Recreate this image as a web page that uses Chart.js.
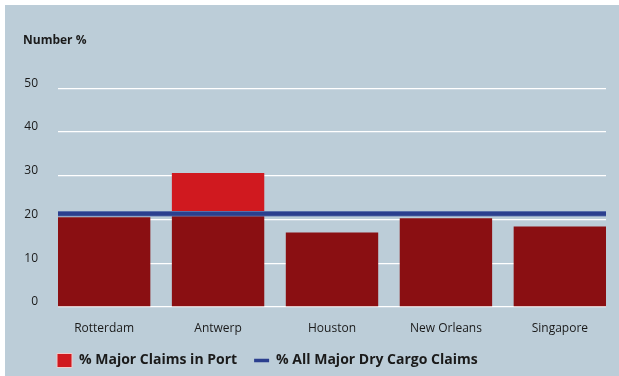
<!DOCTYPE html>
<html>
<head>
<meta charset="utf-8">
<script src="https://cdn.jsdelivr.net/npm/chart.js@4"></script>
<style>
html,body{margin:0;padding:0;background:#ffffff;}
#wrap{position:absolute;left:0;top:0;width:619px;height:376px;}
</style>
</head>
<body>
<div id="wrap"><canvas id="c"></canvas></div>
<script>
// ---- data ----
const categories = ['Rotterdam', 'Antwerp', 'Houston', 'New Orleans', 'Singapore'];
const claimsUpToAverage = [20.5, 21.3, 17.0, 20.3, 18.4];   // dark red part
const claimsAboveAverage = [0, 9.3, 0, 0, 0];               // bright red part
const allDryCargoAverage = 21.3;                            // blue line
const yTicks = [0, 10, 20, 30, 40, 50];
const legendLabels = ['% Major Claims in Port', '% All Major Dry Cargo Claims'];
const yTitle = 'Number %';

const PANEL = '#bccdd8';
const DARK_RED = '#8a0f12';
const BRIGHT_RED = '#d0191f';
const BLUE = '#2b3f8e';
const TEXT = '#1a1a1a';
const FONT = "'Open Sans', 'Noto Sans', sans-serif";

const toPoints = arr => arr.map((v, i) => ({x: i, y: v}));

const panelPlugin = {
  id: 'panel',
  beforeDraw(chart) {
    const ctx = chart.ctx;
    ctx.save();
    ctx.fillStyle = PANEL;
    ctx.fillRect(5, 5, chart.width - 5, chart.height - 5);
    ctx.restore();
  }
};

const avgLinePlugin = {
  id: 'avgLine',
  afterDatasetsDraw(chart) {
    const y = chart.scales.y.getPixelForValue(allDryCargoAverage);
    const {left, right} = chart.chartArea;
    const ctx = chart.ctx;
    ctx.save();
    ctx.strokeStyle = '#6a80b4';
    ctx.lineWidth = 5.5;
    ctx.beginPath(); ctx.moveTo(left, y); ctx.lineTo(right, y); ctx.stroke();
    ctx.strokeStyle = BLUE;
    ctx.lineWidth = 4;
    ctx.beginPath(); ctx.moveTo(left, y); ctx.lineTo(right, y); ctx.stroke();
    ctx.restore();
  }
};

const shiftPlugin = {
  id: 'shiftBlocks',
  afterUpdate(chart) {
    if (chart.legend) {
      const dx = 40, dy = -6.5;
      chart.legend.left += dx; chart.legend.right += dx;
      chart.legend.top += dy; chart.legend.bottom += dy;
    }
    if (chart.titleBlock) {
      chart.titleBlock.left = 23;
    }
  }
};

new Chart(document.getElementById('c'), {
  type: 'bar',
  data: {
    datasets: [
      {
        label: legendLabels[0],
        data: toPoints(claimsUpToAverage),
        backgroundColor: DARK_RED,
        borderWidth: 0,
        barPercentage: 0.811,
        categoryPercentage: 1.0
      },
      {
        label: legendLabels[0] + ' (above)',
        data: toPoints(claimsAboveAverage),
        backgroundColor: BRIGHT_RED,
        borderWidth: 0,
        barPercentage: 0.811,
        categoryPercentage: 1.0
      }
    ]
  },
  options: {
    responsive: true,
    maintainAspectRatio: false,
    animation: false,
    devicePixelRatio: 1,
    layout: {padding: {left: 0, right: 13, top: 0, bottom: -8}},
    scales: {
      x: {
        type: 'linear',
        stacked: true,
        offset: false,
        min: -0.405,
        max: categories.length - 1 + 0.405,
        grid: {display: false, drawTicks: false, offset: false},
        border: {display: false},
        afterBuildTicks(scale) { scale.ticks = categories.map((_, i) => ({value: i})); },
        afterFit(scale) { scale.height = 36; },
        ticks: {
          padding: 14,
          color: TEXT,
          font: {family: FONT, size: 12},
          maxRotation: 0,
          autoSkip: false,
          callback: (v) => categories[v] ?? ''
        }
      },
      y: {
        stacked: true,
        min: 0,
        max: 50,
        grid: {color: '#ffffff', lineWidth: 1.3, drawTicks: false},
        border: {display: false},
        afterBuildTicks(scale) { scale.ticks = yTicks.map(v => ({value: v})); },
        afterFit(scale) { scale.width = 58; },
        ticks: {
          padding: 20,
          labelOffset: -5,
          color: TEXT,
          font: {family: FONT, size: 12}
        }
      }
    },
    plugins: {
      title: {
        display: true,
        text: yTitle,
        align: 'start',
        color: TEXT,
        font: {family: FONT, size: 12, weight: 'bold'},
        padding: {top: 33, bottom: 40.8}
      },
      legend: {
        position: 'bottom',
        align: 'start',
        labels: {
          usePointStyle: true,
          pointStyleWidth: 15,
          boxWidth: 15,
          boxHeight: 15,
          padding: 17,
          color: TEXT,
          font: {family: FONT, size: 14, weight: 'bold'},
          generateLabels() {
            return [
              {text: legendLabels[0], fillStyle: BRIGHT_RED, strokeStyle: '#f2c9c9', lineWidth: 1, pointStyle: 'rect', fontColor: TEXT, datasetIndex: 0},
              {text: legendLabels[1], fillStyle: BLUE, strokeStyle: BLUE, lineWidth: 3.5, pointStyle: 'line', fontColor: TEXT, datasetIndex: 1}
            ];
          }
        }
      },
      tooltip: {enabled: false}
    }
  },
  plugins: [panelPlugin, avgLinePlugin, shiftPlugin]
});
</script>
</body>
</html>
